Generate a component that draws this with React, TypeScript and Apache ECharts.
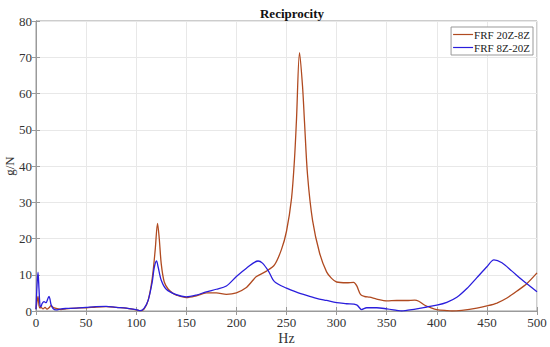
import React, { useEffect, useRef } from "react";
import * as echarts from "echarts";

const title = "Reciprocity";
const xName = "Hz";
const yName = "g/N";
const seriesNames = ["FRF 20Z-8Z", "FRF 8Z-20Z"];

const hzA = [0, 1, 2, 3, 4, 5, 7, 9, 11, 13, 15, 17, 20, 25, 30, 40, 50, 60, 70, 80, 90, 100, 105, 108, 112, 116, 119, 121.3, 123, 125, 128, 132, 136, 140, 150, 160, 170, 180, 190, 200, 210, 215, 220, 230, 238, 245, 250, 255, 258, 260, 263, 266, 268, 271, 276, 283, 290, 295, 300, 310, 317, 320, 324, 328, 333, 340, 350, 360, 370, 378, 382, 388, 395, 400, 410, 415, 425, 440, 450, 460, 470, 480, 490, 500];
const valA = [0.5, 2.5, 4, 1.5, 0.8, 1, 0.6, 1, 0.5, 0.9, 1.5, 1, 0.7, 0.4, 0.6, 0.8, 0.9, 1.1, 1.2, 1, 0.8, 0.3, 0.1, 0.6, 3, 9, 17, 24.2, 20, 13, 8, 6, 5, 4.4, 3.7, 4.2, 5, 5, 4.6, 5, 6.5, 8, 9.5, 11, 12.7, 17, 22, 31, 42, 53, 71.3, 62, 52, 37.5, 25, 16, 10.8, 9, 8, 7.8, 7.9, 7, 4.5, 4, 3.8, 3.3, 2.8, 2.9, 2.9, 3, 2.7, 1.6, 0.8, 0.4, 0.1, 0, 0.2, 0.8, 1.4, 2.2, 3.6, 5.5, 7.6, 10.5];

const hzB = [0, 1, 2, 3, 4, 5, 6, 8, 10, 12, 13, 14, 15, 17, 20, 25, 30, 40, 50, 60, 70, 80, 90, 100, 104, 108, 112, 116, 118, 120.3, 122, 125, 130, 140, 150, 160, 170, 180, 190, 200, 210, 221.6, 226, 232, 238, 250, 260, 270, 280, 290, 300, 310, 320, 325, 330, 340, 350, 360, 365, 370, 380, 390, 400, 410, 420, 430, 440, 450, 457, 465, 475, 485, 495, 500];
const valB = [0.5, 7, 10.7, 6, 1.5, 1.2, 2, 2.6, 2.3, 3.5, 4, 3.2, 1.8, 0.7, 0.3, 0.6, 0.7, 0.8, 1, 1.2, 1.3, 1, 0.8, 0.4, 0.1, 0.8, 3, 8, 12, 13.8, 12, 8.5, 6, 4.5, 3.9, 4.4, 5.3, 6, 6.9, 9.5, 11.8, 13.8, 13.2, 11, 8.1, 6.3, 5.2, 4.3, 3.5, 2.9, 2.3, 2, 1.7, 0.4, 0.9, 0.9, 0.6, 0.2, 0, 0.2, 0.6, 1.1, 1.6, 2.4, 3.8, 6.2, 9.2, 12.2, 14.1, 13.3, 11, 8.6, 6.4, 5.3];

const colors = ["#b04a20", "#2a1edc"];

export default function App() {
  const ref = useRef<HTMLDivElement>(null);
  useEffect(() => {
    if (!ref.current) return;
    const chart = echarts.init(ref.current, undefined, { renderer: "svg" });
    const font = "Liberation Serif";
    const tickLabel = { color: "#333", fontFamily: font, fontSize: 13 };
    chart.setOption({
      animation: false,
      backgroundColor: "#fff",
      title: {
        text: title,
        left: 287,
        top: 2,
        textAlign: "center",
        textStyle: { fontFamily: font, fontSize: 13, fontWeight: "bold", color: "#111" },
      },
      legend: {
        data: seriesNames,
        right: 17,
        top: 27,
        orient: "vertical",
        backgroundColor: "#fff",
        borderColor: "#999",
        borderWidth: 1,
        borderRadius: 0,
        padding: [2, 3, 2, 2],
        itemGap: 2,
        itemWidth: 20,
        itemHeight: 10,
        icon: "path://M0,4.4L20,4.4L20,5.6L0,5.6Z",
        textStyle: { fontFamily: font, fontSize: 11, color: "#222", padding: [0, 0, 0, -4] },
      },
      grid: {
        left: 36,
        right: 13,
        top: 21,
        bottom: 36,
        containLabel: false,
        outerBoundsMode: "none",
        show: true,
        borderColor: "#9a9a9a",
        borderWidth: 1,
      },
      xAxis: [
        {
          type: "value",
          min: 0,
          max: 500,
          interval: 50,
          name: xName,
          nameLocation: "middle",
          nameGap: 20,
          nameMoveOverlap: false,
          nameTextStyle: { fontFamily: font, fontSize: 14, color: "#333" },
          axisLine: { show: true, lineStyle: { color: "#9a9a9a" } },
          axisTick: { show: true, inside: true, length: 4, lineStyle: { color: "#9a9a9a" } },
          axisLabel: { ...tickLabel, margin: 5 },
          splitLine: { show: true, lineStyle: { color: "#e8e8e8" } },
        },
        {
          type: "value",
          position: "top",
          min: 0,
          max: 500,
          interval: 50,
          axisLine: { show: true, lineStyle: { color: "#9a9a9a" } },
          axisTick: { show: true, inside: true, length: 4, lineStyle: { color: "#9a9a9a" } },
          axisLabel: { show: false },
          splitLine: { show: false },
        },
      ],
      yAxis: [
        {
          type: "value",
          min: 0,
          max: 80,
          interval: 10,
          name: yName,
          nameLocation: "middle",
          nameGap: 20,
          nameMoveOverlap: false,
          nameTextStyle: { fontFamily: font, fontSize: 13, color: "#333" },
          axisLine: { show: true, lineStyle: { color: "#9a9a9a" } },
          axisTick: { show: true, inside: true, length: 4, lineStyle: { color: "#9a9a9a" } },
          axisLabel: { ...tickLabel, margin: 4 },
          splitLine: { show: true, lineStyle: { color: "#e8e8e8" } },
        },
        {
          type: "value",
          position: "right",
          min: 0,
          max: 80,
          interval: 10,
          axisLine: { show: true, lineStyle: { color: "#9a9a9a" } },
          axisTick: { show: true, inside: true, length: 4, lineStyle: { color: "#9a9a9a" } },
          axisLabel: { show: false },
          splitLine: { show: false },
        },
      ],
      series: [
        {
          name: seriesNames[0],
          type: "line",
          data: hzA.map((x, i) => [x, valA[i]]),
          showSymbol: false,
          smooth: 0.3,
          color: colors[0],
          lineStyle: { width: 1.3, color: colors[0] },
        },
        {
          name: seriesNames[1],
          type: "line",
          data: hzB.map((x, i) => [x, valB[i]]),
          showSymbol: false,
          smooth: 0.3,
          color: colors[1],
          lineStyle: { width: 1.3, color: colors[1] },
        },
      ],
    });
    return () => chart.dispose();
  }, []);
  return <div ref={ref} style={{ width: 550, height: 347, position: "absolute", left: 0, top: 0 }} />;
}
